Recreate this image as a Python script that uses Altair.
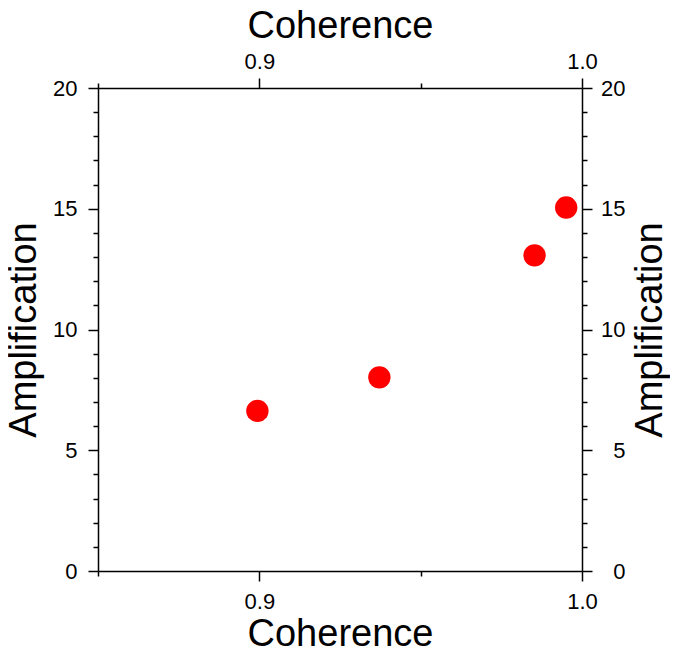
import altair as alt
import pandas as pd

coherence = [0.8994, 0.9372, 0.9853, 0.9951]
amplification = [6.63, 8.02, 13.07, 15.05]

x_ticks = [0.85, 0.9, 0.95, 1.0]
y_ticks = list(range(0, 21))

df = pd.DataFrame({"Coherence": coherence, "Amplification": amplification})

FONT = "Liberation Sans"
LAB = 22
TIT = 38

x_major = "datum.value == 0.9 || datum.value == 1"
y_major = "datum.value % 5 === 0"

common = dict(
    labelFontSize=LAB, titleFontSize=TIT, titleFontWeight="normal",
    labelFont=FONT, titleFont=FONT, grid=False, domainColor="black",
    tickColor="black", labelColor="black", titleColor="black",
    labelOverlap=False, labelFlush=False, labelBound=False,
    domainWidth=1.5, tickWidth=1.5,
)


def xaxis(orient, lp, tp):
    return alt.Axis(
        orient=orient, values=x_ticks, format=".1f", title="Coherence",
        labelExpr=f"({x_major}) ? datum.label : ''",
        tickSize={"condition": {"test": x_major, "value": 10}, "value": 5},
        labelPadding=lp, titlePadding=tp, **common,
    )


def yaxis(orient, lp, tp, **kw):
    return alt.Axis(
        orient=orient, values=y_ticks, title="Amplification",
        labelExpr=f"({y_major}) ? datum.label : ''",
        tickSize={"condition": {"test": y_major, "value": 10}, "value": 5},
        labelPadding=lp, titlePadding=tp, **common, **kw,
    )


xs = alt.Scale(domain=[0.85, 1.0], nice=False, zero=False)
ys = alt.Scale(domain=[0, 20], nice=False, zero=False)

base = alt.Chart(df)

pts = base.mark_circle(size=500, color="#ff0000", opacity=1).encode(
    x=alt.X("Coherence:Q", scale=xs, axis=xaxis("bottom", 10, 3)),
    y=alt.Y("Amplification:Q", scale=ys, axis=yaxis("left", 11, 9)),
)

ghost = base.mark_circle(size=1, opacity=0).encode(
    x=alt.X("Coherence:Q", scale=xs, axis=xaxis("top", 5, 5)),
    y=alt.Y(
        "Amplification:Q", scale=ys,
        axis=yaxis("right", 33, 6, labelAlign="right", titleAngle=270, titleBaseline="top"),
    ),
)

chart = (
    alt.layer(pts, ghost)
    .resolve_scale(x="independent", y="independent")
    .resolve_axis(x="independent", y="independent")
    .properties(
        width=484, height=483,
        autosize=alt.AutoSizeParams(type="none"),
        padding={"left": 90, "top": 80, "right": 88, "bottom": 78},
    )
    .configure_view(stroke="black", strokeWidth=1.5)
    .configure(background="white")
)

chart.save("out.html", embed_options={"renderer": "svg", "actions": False})
